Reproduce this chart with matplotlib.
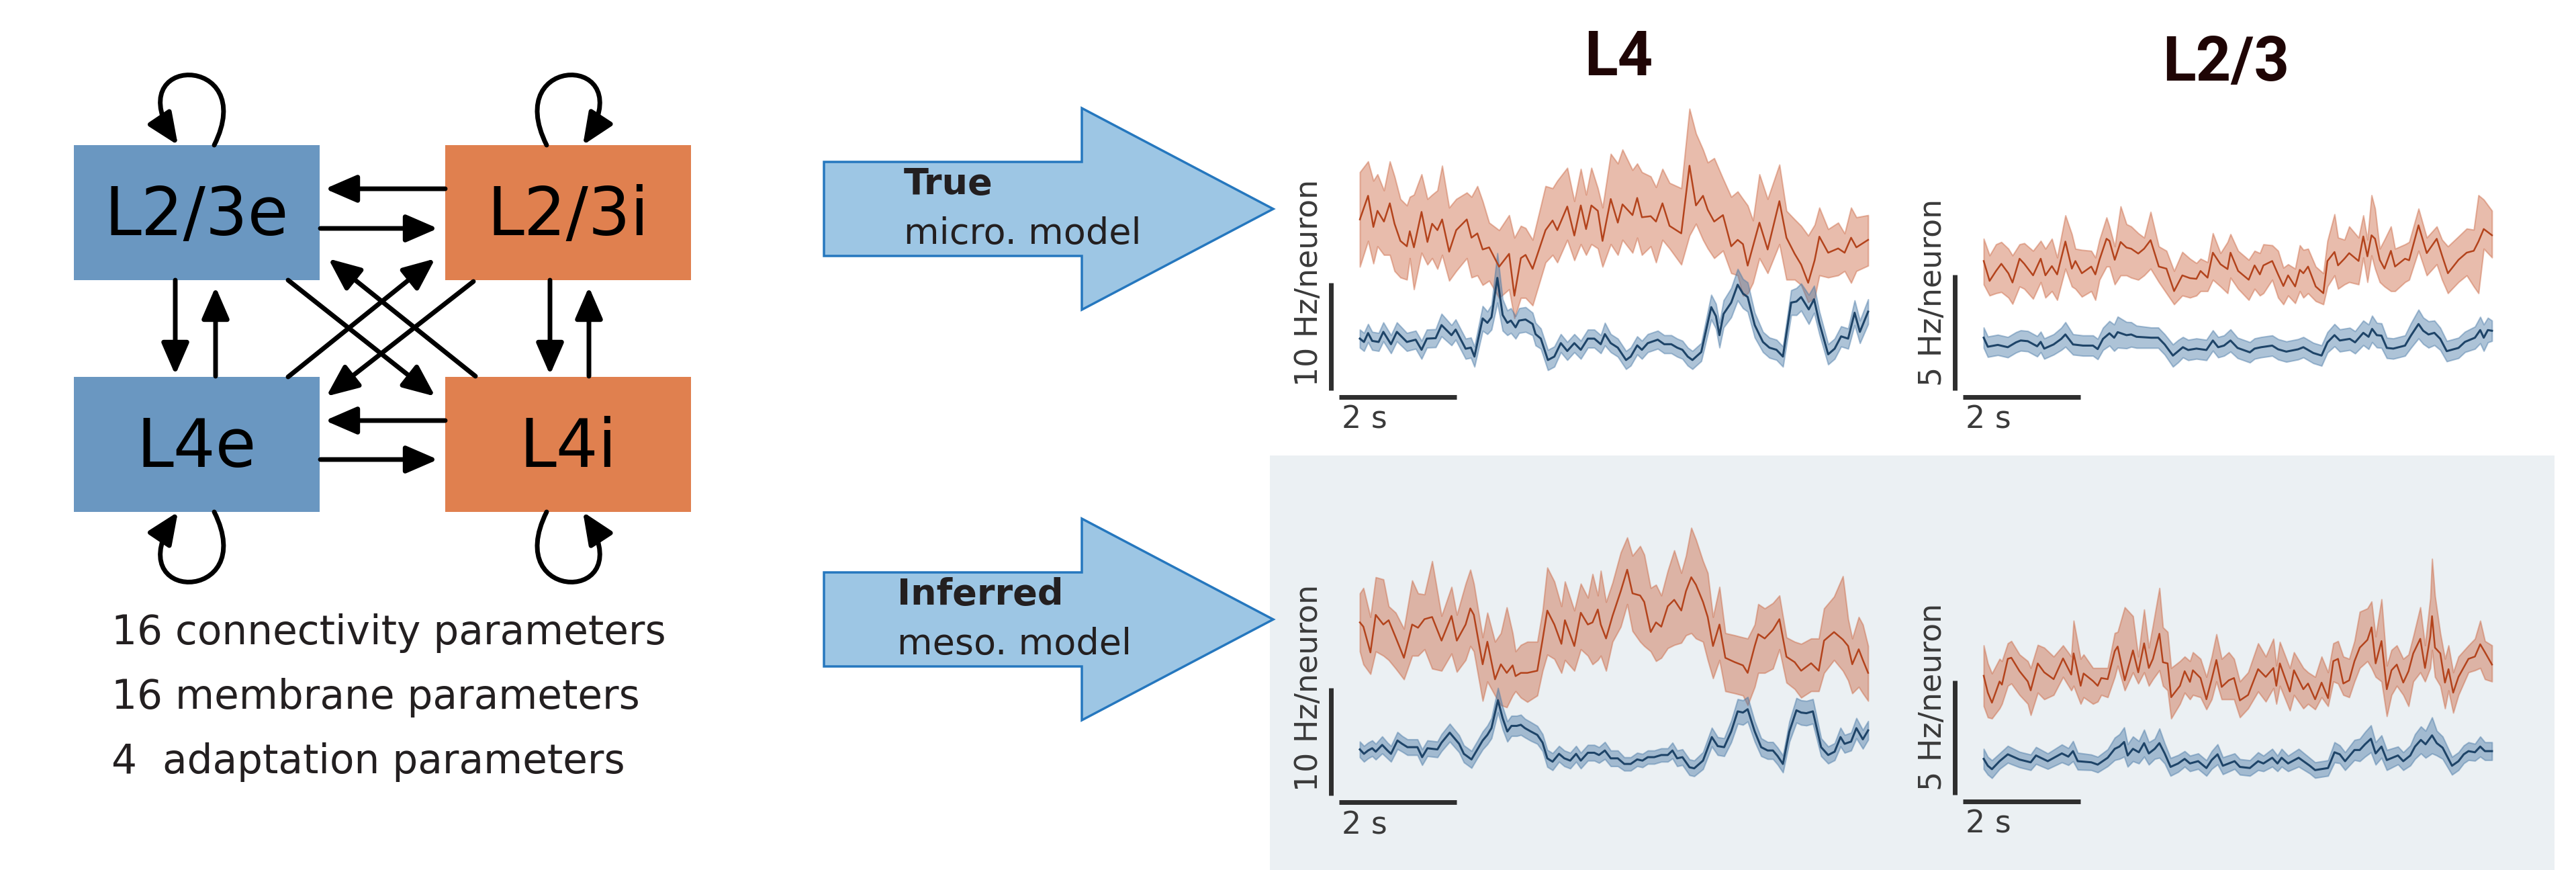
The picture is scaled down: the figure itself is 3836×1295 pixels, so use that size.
import numpy as np
import matplotlib.pyplot as plt
from matplotlib.patches import Rectangle, Polygon, FancyArrowPatch
from matplotlib.path import Path

# ---------------- data (rates in Hz/neuron, time in s) ----------------
# L4, true micro model: inhibitory (orange) mean + band, excitatory (blue) mean + half width
l4_true_t_inh = [0.00, 0.14, 0.23, 0.30, 0.41, 0.51, 0.59, 0.69, 0.80, 0.85,
                 0.92, 1.05, 1.15, 1.23, 1.32, 1.40, 1.52, 1.64, 1.82, 1.90,
                 2.00, 2.09, 2.20, 2.37, 2.54, 2.63, 2.74, 2.82, 2.94, 3.16,
                 3.28, 3.36, 3.53, 3.65, 3.76, 3.85, 3.94, 4.05, 4.13, 4.27,
                 4.39, 4.47, 4.64, 4.72, 4.80, 4.95, 5.04, 5.15, 5.27, 5.47,
                 5.61, 5.72, 5.84, 5.92, 6.03, 6.18, 6.32, 6.43, 6.52, 6.60,
                 6.69, 6.80, 6.94, 7.14, 7.26, 7.40, 7.51, 7.63, 7.74, 7.82,
                 7.97, 8.14, 8.25, 8.36, 8.45, 8.65]
l4_true_inh = [15.9, 18.1, 15.2, 16.7, 15.7, 17.4, 15.5, 13.9, 13.4, 14.8,
               13.3, 16.6, 13.8, 15.5, 14.9, 15.9, 12.9, 14.9, 15.9, 14.2,
               14.6, 13.1, 13.3, 11.5, 12.7, 8.8, 12.3, 12.6, 11.3, 14.9,
               15.8, 14.9, 17.1, 14.4, 17.2, 15.0, 17.2, 16.7, 13.9, 17.8,
               15.6, 17.3, 16.3, 17.9, 16.1, 16.2, 15.7, 17.4, 15.3, 14.6,
               20.9, 17.2, 18.1, 16.8, 15.7, 16.3, 13.4, 14.0, 13.6, 11.6,
               13.4, 15.6, 13.1, 17.6, 14.2, 12.7, 11.7, 10.0, 12.1, 14.3,
               12.8, 13.2, 12.8, 14.2, 13.3, 14.0]
l4_true_inh_hi = [20.3, 21.3, 19.5, 20.1, 18.6, 21.3, 19.9, 17.8, 17.2, 18.0,
                  18.2, 20.1, 17.8, 18.2, 18.6, 20.9, 17.0, 17.8, 18.4, 18.0,
                  19.0, 17.6, 15.6, 14.9, 16.3, 14.2, 15.3, 15.1, 14.0, 19.0,
                  18.8, 19.5, 20.7, 17.6, 20.6, 18.2, 20.7, 18.8, 17.0, 22.0,
                  21.1, 22.4, 20.5, 21.1, 20.3, 19.9, 18.9, 20.6, 19.3, 18.8,
                  26.2, 23.9, 22.4, 21.2, 21.6, 19.7, 18.0, 18.5, 17.8, 17.2,
                  15.8, 20.1, 17.8, 21.0, 16.7, 15.9, 15.3, 14.4, 15.4, 17.0,
                  15.0, 15.6, 14.6, 17.0, 16.1, 16.3]
l4_true_inh_lo = [11.5, 13.9, 11.8, 13.4, 12.6, 12.6, 11.1, 10.5, 10.3, 12.3,
                  9.4, 12.8, 11.7, 12.3, 11.3, 12.6, 10.2, 11.1, 12.3, 10.5,
                  10.7, 9.8, 10.2, 8.6, 9.4, 6.7, 8.6, 8.6, 7.9, 11.9,
                  12.6, 11.9, 14.0, 12.1, 13.6, 12.6, 13.6, 13.2, 11.5, 13.6,
                  12.6, 14.0, 12.8, 14.2, 12.6, 13.4, 11.9, 14.0, 13.2, 11.7,
                  14.4, 15.5, 14.0, 13.2, 12.3, 13.0, 10.9, 10.7, 8.8, 9.0,
                  10.0, 12.3, 10.9, 13.6, 10.3, 10.3, 9.8, 8.2, 8.6, 10.7,
                  10.5, 10.7, 11.1, 10.0, 11.1, 11.6]
l4_true_t_exc = [0.00, 0.07, 0.14, 0.21, 0.32, 0.40, 0.53, 0.63, 0.80, 0.95,
                 1.05, 1.14, 1.29, 1.39, 1.56, 1.63, 1.80, 1.89, 1.95, 2.09,
                 2.17, 2.24, 2.34, 2.43, 2.51, 2.57, 2.65, 2.71, 2.82, 2.94,
                 2.99, 3.08, 3.20, 3.31, 3.42, 3.53, 3.65, 3.76, 3.88, 3.99,
                 4.10, 4.17, 4.27, 4.39, 4.53, 4.61, 4.72, 4.80, 4.90, 5.07,
                 5.18, 5.30, 5.40, 5.49, 5.58, 5.66, 5.81, 5.98, 6.06, 6.12,
                 6.19, 6.32, 6.43, 6.52, 6.60, 6.72, 6.86, 6.97, 7.09, 7.20,
                 7.34, 7.43, 7.51, 7.64, 7.73, 7.82, 7.97, 8.08, 8.19, 8.31,
                 8.42, 8.51, 8.65]
l4_true_exc = [4.81, 4.50, 5.33, 4.60, 4.50, 5.44, 4.29, 5.44, 4.50, 4.71,
               3.77, 4.81, 4.85, 6.07, 5.13, 5.65, 3.87, 3.97, 3.14, 6.69,
               6.28, 6.80, 10.46, 7.01, 6.28, 6.49, 5.86, 6.49, 6.59, 6.17,
               5.23, 4.81, 2.82, 3.14, 4.39, 3.66, 4.39, 3.77, 4.81, 4.81,
               4.29, 5.23, 4.39, 3.97, 2.82, 3.14, 4.18, 3.77, 4.39, 4.71,
               4.29, 4.29, 3.97, 3.77, 3.14, 2.82, 3.56, 7.74, 6.90, 5.13,
               7.11, 8.16, 9.83, 9.00, 8.68, 6.07, 4.50, 3.97, 3.77, 3.14,
               8.16, 8.26, 8.68, 7.53, 8.47, 6.28, 3.35, 3.87, 5.02, 4.81,
               7.22, 5.44, 7.32]
l4_true_exc_w = [0.84, 0.84, 0.84, 0.84, 0.84, 0.88, 0.84, 0.88, 0.84, 0.84,
                 0.84, 0.84, 0.84, 1.05, 0.94, 0.94, 0.94, 0.94, 0.94, 1.15,
                 1.05, 1.15, 2.30, 1.46, 1.15, 1.15, 1.05, 1.15, 1.15, 1.05,
                 1.05, 0.94, 0.94, 0.94, 0.84, 0.84, 0.84, 0.84, 0.84, 0.84,
                 0.84, 1.05, 0.84, 0.84, 0.84, 0.84, 0.84, 0.84, 0.84, 0.84,
                 0.84, 0.84, 0.84, 0.84, 0.84, 0.84, 0.84, 1.15, 1.15, 1.15,
                 1.26, 1.36, 1.46, 1.36, 1.36, 1.15, 0.94, 0.94, 0.94, 0.94,
                 1.15, 1.26, 1.26, 1.36, 1.26, 1.05, 0.94, 0.94, 0.94, 0.94,
                 1.15, 1.05, 1.15]

# L2/3, true micro model
l23_true_t_inh = [0.00, 0.10, 0.21, 0.30, 0.42, 0.49, 0.61, 0.69, 0.84, 0.97,
                  1.05, 1.16, 1.25, 1.39, 1.50, 1.56, 1.67, 1.83, 1.90, 1.97,
                  2.09, 2.14, 2.23, 2.33, 2.43, 2.51, 2.63, 2.73, 2.84, 2.98,
                  3.11, 3.24, 3.38, 3.51, 3.62, 3.69, 3.81, 3.90, 4.03, 4.15,
                  4.20, 4.33, 4.51, 4.61, 4.70, 4.76, 4.91, 5.01, 5.10, 5.18,
                  5.30, 5.38, 5.44, 5.52, 5.65, 5.78, 5.85, 5.97, 6.03, 6.14,
                  6.22, 6.38, 6.46, 6.53, 6.60, 6.66, 6.74, 6.82, 6.93, 7.00,
                  7.17, 7.24, 7.40, 7.54, 7.71, 7.80, 7.90, 8.08, 8.22, 8.34,
                  8.42, 8.51, 8.65]
l23_true_inh = [5.58, 4.72, 5.15, 5.46, 5.05, 4.65, 5.68, 5.46, 4.96, 5.68,
                4.96, 5.36, 5.00, 6.42, 5.25, 5.58, 5.05, 5.34, 5.00, 5.63,
                6.54, 6.45, 5.63, 6.40, 6.16, 6.11, 5.90, 6.11, 6.48, 5.34,
                5.25, 4.28, 4.96, 4.84, 4.81, 5.15, 4.86, 5.94, 5.44, 5.23,
                5.94, 5.15, 4.77, 5.39, 5.00, 5.39, 5.58, 5.00, 4.50, 4.96,
                4.48, 5.20, 5.05, 5.34, 4.48, 4.19, 5.58, 5.97, 5.39, 5.68,
                5.92, 5.58, 6.64, 5.78, 6.69, 6.54, 5.63, 5.25, 6.02, 5.34,
                5.68, 5.61, 7.12, 5.92, 6.54, 5.82, 5.05, 5.63, 5.94, 6.02,
                6.42, 6.96, 6.69]
l23_true_inh_hi = [6.54, 5.82, 6.30, 6.40, 6.11, 5.82, 6.30, 6.35, 6.02, 6.45,
                   6.11, 6.54, 5.73, 7.55, 6.74, 6.11, 6.06, 6.02, 5.73, 6.50,
                   7.46, 7.07, 6.21, 7.94, 7.17, 7.07, 6.78, 6.59, 7.70, 6.21,
                   6.02, 5.15, 5.97, 5.68, 5.49, 5.68, 5.53, 6.78, 5.92, 6.40,
                   6.74, 6.02, 5.63, 6.02, 5.92, 6.30, 6.26, 6.02, 5.29, 5.44,
                   5.25, 6.26, 6.06, 6.11, 5.34, 5.05, 6.45, 7.60, 6.59, 6.50,
                   7.07, 6.59, 7.55, 6.50, 8.42, 7.84, 6.11, 6.50, 7.07, 6.11,
                   6.30, 6.40, 7.84, 6.59, 7.07, 6.50, 6.21, 6.64, 6.98, 6.93,
                   8.42, 8.23, 7.75]
l23_true_inh_lo = [4.57, 4.09, 4.19, 4.24, 4.00, 3.73, 4.48, 4.38, 3.95, 4.67,
                   4.00, 4.28, 3.90, 5.25, 4.48, 4.38, 4.04, 4.28, 3.90, 4.77,
                   5.34, 5.34, 4.57, 4.96, 4.96, 4.86, 4.77, 4.96, 5.25, 4.67,
                   4.19, 3.71, 4.09, 4.00, 4.09, 4.28, 4.28, 4.77, 4.48, 4.19,
                   4.86, 4.38, 3.90, 4.38, 4.09, 4.19, 4.77, 4.00, 3.71, 4.09,
                   3.76, 4.28, 4.00, 4.19, 3.85, 3.71, 4.48, 4.96, 4.38, 4.57,
                   4.67, 4.57, 5.73, 4.67, 5.82, 5.25, 4.67, 4.48, 4.28, 4.28,
                   4.67, 4.77, 6.02, 4.96, 5.44, 4.77, 4.19, 4.67, 4.96, 4.48,
                   4.19, 6.11, 5.73]
l23_true_t_exc = [0.00, 0.07, 0.24, 0.41, 0.55, 0.63, 0.75, 0.91, 0.97, 1.03,
                  1.19, 1.32, 1.39, 1.52, 1.69, 1.86, 1.94, 2.03, 2.14, 2.22,
                  2.28, 2.43, 2.51, 2.60, 2.85, 2.97, 3.08, 3.22, 3.31, 3.39,
                  3.48, 3.62, 3.79, 3.90, 3.99, 4.09, 4.20, 4.32, 4.53, 4.61,
                  4.72, 4.91, 5.01, 5.15, 5.35, 5.44, 5.61, 5.75, 5.85, 5.97,
                  6.06, 6.23, 6.32, 6.46, 6.55, 6.61, 6.69, 6.77, 6.86, 6.97,
                  7.17, 7.27, 7.40, 7.48, 7.57, 7.67, 7.77, 7.88, 8.08, 8.19,
                  8.36, 8.45, 8.51, 8.58, 8.65]
l23_true_exc = [2.27, 1.88, 1.96, 1.86, 2.07, 2.15, 2.12, 1.90, 2.09, 1.80,
                1.98, 2.22, 2.41, 1.98, 1.93, 1.93, 1.78, 2.22, 2.46, 2.27,
                2.51, 2.38, 2.41, 2.31, 2.27, 2.27, 1.98, 1.50, 1.69, 1.86,
                1.74, 1.80, 1.74, 2.15, 1.86, 1.93, 2.15, 1.83, 1.64, 1.80,
                1.86, 1.93, 1.77, 1.67, 1.77, 1.86, 1.61, 1.50, 2.07, 2.38,
                2.15, 2.22, 2.07, 2.48, 2.31, 2.65, 2.38, 2.36, 1.83, 1.80,
                1.93, 2.36, 2.86, 2.57, 2.41, 2.48, 2.22, 1.69, 1.83, 2.09,
                2.27, 2.60, 2.27, 2.60, 2.57]
l23_true_exc_w = [0.44, 0.44, 0.44, 0.44, 0.44, 0.44, 0.44, 0.44, 0.44, 0.44,
                  0.44, 0.48, 0.53, 0.44, 0.44, 0.44, 0.44, 0.48, 0.53, 0.57,
                  0.67, 0.57, 0.53, 0.48, 0.44, 0.44, 0.44, 0.48, 0.48, 0.44,
                  0.44, 0.44, 0.44, 0.44, 0.44, 0.44, 0.48, 0.44, 0.44, 0.44,
                  0.44, 0.44, 0.44, 0.44, 0.44, 0.44, 0.44, 0.44, 0.44, 0.48,
                  0.48, 0.48, 0.48, 0.53, 0.53, 0.57, 0.53, 0.53, 0.44, 0.44,
                  0.44, 0.53, 0.62, 0.57, 0.57, 0.53, 0.48, 0.44, 0.44, 0.44,
                  0.48, 0.57, 0.57, 0.53, 0.44]

# L4, inferred meso model
l4_inf_t_inh = [0.00, 0.06, 0.18, 0.27, 0.40, 0.49, 0.61, 0.75, 0.89, 0.99,
                1.10, 1.23, 1.39, 1.56, 1.65, 1.80, 1.88, 1.94, 2.09, 2.17,
                2.30, 2.40, 2.50, 2.60, 2.65, 2.74, 2.85, 3.02, 3.11, 3.19,
                3.31, 3.43, 3.49, 3.65, 3.76, 3.88, 3.96, 4.05, 4.10, 4.19,
                4.30, 4.44, 4.55, 4.64, 4.77, 4.84, 4.95, 5.04, 5.13, 5.24,
                5.35, 5.47, 5.55, 5.64, 5.72, 5.84, 5.92, 6.01, 6.12, 6.22,
                6.38, 6.52, 6.60, 6.72, 6.78, 6.89, 7.03, 7.14, 7.26, 7.40,
                7.51, 7.68, 7.81, 7.90, 8.07, 8.22, 8.31, 8.38, 8.49, 8.56,
                8.65]
l4_inf_inh = [16.1, 15.7, 13.3, 16.8, 15.9, 16.3, 14.7, 12.8, 15.9, 15.6,
              16.4, 16.6, 14.4, 16.7, 14.4, 15.9, 17.4, 16.8, 12.2, 14.3,
              10.8, 12.2, 11.4, 12.1, 11.1, 11.4, 11.4, 11.6, 14.5, 17.2,
              15.9, 14.1, 16.3, 13.9, 17.0, 15.9, 16.1, 17.3, 15.9, 14.6,
              16.7, 19.0, 21.0, 18.8, 18.6, 18.0, 15.2, 16.1, 15.7, 17.6,
              18.2, 17.2, 19.0, 20.3, 19.6, 18.0, 16.6, 13.9, 15.9, 12.8,
              12.4, 12.1, 11.4, 13.9, 15.0, 14.6, 15.4, 16.4, 12.9, 12.4,
              11.6, 12.3, 11.6, 14.4, 15.2, 14.5, 13.9, 12.2, 13.6, 12.6,
              11.4]
l4_inf_inh_hi = [18.8, 19.3, 16.6, 20.3, 20.1, 17.6, 17.0, 15.5, 20.0, 18.8,
                 18.7, 21.8, 16.7, 19.4, 16.8, 19.7, 21.0, 19.7, 14.7, 17.0,
                 14.3, 15.1, 17.5, 15.1, 13.4, 14.0, 14.3, 14.3, 17.2, 21.2,
                 19.9, 17.6, 19.9, 17.2, 19.7, 18.4, 20.6, 18.6, 20.9, 18.0,
                 19.8, 22.6, 24.0, 22.3, 23.2, 22.4, 19.3, 19.6, 18.6, 20.9,
                 22.8, 20.7, 22.3, 24.9, 23.8, 21.8, 20.7, 16.6, 19.4, 15.1,
                 14.9, 14.7, 14.6, 15.9, 17.8, 17.4, 17.9, 18.6, 14.7, 14.3,
                 14.1, 14.6, 14.6, 17.4, 18.5, 20.4, 16.4, 14.6, 16.6, 15.9,
                 13.9]
l4_inf_inh_lo = [13.4, 12.2, 11.3, 13.4, 13.0, 12.6, 11.8, 10.8, 13.0, 13.0,
                 13.6, 11.8, 11.6, 13.2, 11.5, 12.6, 13.9, 13.4, 8.8, 10.6,
                 9.3, 8.4, 8.2, 9.3, 9.7, 9.1, 8.7, 9.3, 11.6, 13.1,
                 12.7, 11.4, 12.6, 11.6, 13.6, 13.0, 12.2, 12.6, 13.0, 11.6,
                 14.3, 15.7, 17.8, 15.3, 14.3, 13.9, 13.4, 12.5, 12.8, 13.7,
                 14.0, 14.2, 14.9, 15.1, 14.6, 14.3, 12.6, 10.9, 12.6, 9.7,
                 9.5, 9.3, 8.4, 10.1, 11.4, 11.4, 11.8, 13.6, 10.5, 9.9,
                 9.1, 9.7, 9.7, 11.4, 12.6, 11.6, 10.7, 9.5, 10.1, 9.5,
                 8.8]
l4_inf_t_exc = [0.00, 0.07, 0.14, 0.21, 0.27, 0.38, 0.47, 0.53, 0.64, 0.72,
                0.81, 0.98, 1.06, 1.15, 1.32, 1.39, 1.53, 1.69, 1.77, 1.90,
                2.00, 2.09, 2.17, 2.24, 2.35, 2.43, 2.51, 2.58, 2.67, 2.74,
                2.81, 2.91, 3.02, 3.11, 3.19, 3.28, 3.39, 3.48, 3.58, 3.68,
                3.76, 3.88, 3.99, 4.07, 4.17, 4.27, 4.39, 4.50, 4.61, 4.72,
                4.81, 4.90, 5.01, 5.13, 5.24, 5.32, 5.40, 5.49, 5.61, 5.69,
                5.84, 5.99, 6.09, 6.20, 6.32, 6.43, 6.52, 6.60, 6.72, 6.83,
                6.94, 7.03, 7.11, 7.20, 7.31, 7.43, 7.51, 7.60, 7.71, 7.85,
                7.97, 8.08, 8.18, 8.25, 8.36, 8.45, 8.56, 8.65]
l4_inf_exc = [4.28, 3.87, 4.18, 4.39, 4.07, 4.70, 4.18, 3.87, 5.11, 4.80,
              4.49, 4.49, 3.56, 4.39, 4.28, 4.91, 5.84, 4.80, 3.87, 3.35,
              4.28, 5.11, 5.63, 6.26, 8.86, 7.19, 5.95, 6.47, 6.47, 6.57,
              6.26, 5.95, 5.63, 4.91, 3.45, 3.14, 3.87, 3.45, 3.24, 3.87,
              3.24, 3.97, 3.97, 3.76, 4.18, 3.45, 3.45, 2.93, 2.93, 3.35,
              3.24, 3.56, 3.56, 3.76, 3.76, 4.18, 3.45, 3.56, 2.62, 2.52,
              3.24, 5.43, 4.59, 4.49, 5.95, 7.82, 7.71, 8.02, 5.95, 4.49,
              4.18, 4.18, 3.66, 2.93, 5.95, 7.92, 7.71, 7.65, 7.82, 4.49,
              3.76, 4.07, 5.43, 4.80, 5.01, 6.26, 5.22, 6.05]
l4_inf_exc_w = [0.73, 0.73, 0.73, 0.73, 0.73, 0.79, 0.73, 0.73, 0.79, 0.73,
                0.73, 0.73, 0.73, 0.73, 0.73, 0.79, 0.83, 0.79, 0.79, 0.79,
                0.79, 0.83, 0.87, 0.94, 1.14, 1.04, 0.94, 0.94, 0.94, 0.94,
                0.87, 0.87, 0.83, 0.79, 0.79, 0.79, 0.73, 0.73, 0.73, 0.73,
                0.73, 0.73, 0.73, 0.73, 0.79, 0.73, 0.73, 0.62, 0.62, 0.62,
                0.62, 0.62, 0.62, 0.62, 0.62, 0.73, 0.73, 0.73, 0.73, 0.73,
                0.79, 0.87, 0.83, 0.83, 1.00, 1.14, 1.14, 1.14, 0.94, 0.83,
                0.79, 0.79, 0.79, 0.79, 0.94, 1.14, 1.14, 1.14, 1.14, 0.83,
                0.79, 0.79, 0.87, 0.83, 0.83, 0.94, 0.87, 0.87]

# L2/3, inferred meso model
l23_inf_t_inh = [0.00, 0.07, 0.14, 0.27, 0.31, 0.41, 0.47, 0.61, 0.75, 0.80,
                 0.92, 1.03, 1.19, 1.35, 1.49, 1.53, 1.65, 1.70, 1.86, 1.94,
                 2.00, 2.11, 2.23, 2.28, 2.40, 2.54, 2.63, 2.73, 2.81, 2.88,
                 2.99, 3.05, 3.13, 3.19, 3.34, 3.42, 3.51, 3.56, 3.69, 3.79,
                 3.88, 3.96, 4.05, 4.17, 4.26, 4.36, 4.50, 4.67, 4.80, 4.93,
                 4.98, 5.04, 5.21, 5.28, 5.44, 5.52, 5.64, 5.75, 5.86, 5.95,
                 6.03, 6.12, 6.22, 6.31, 6.40, 6.53, 6.60, 6.67, 6.77, 6.86,
                 6.94, 7.03, 7.14, 7.23, 7.31, 7.43, 7.51, 7.60, 7.63, 7.68,
                 7.77, 7.85, 7.91, 7.99, 8.08, 8.25, 8.36, 8.45, 8.53, 8.65]
l23_inf_inh = [5.21, 4.47, 4.03, 4.96, 4.82, 5.95, 6.00, 5.41, 4.96, 4.57,
               5.75, 5.36, 5.06, 5.97, 5.26, 6.19, 4.77, 5.31, 4.98, 4.77,
               5.11, 5.06, 6.29, 6.49, 5.01, 6.32, 5.36, 6.63, 5.55, 5.95,
               7.05, 5.80, 5.75, 4.27, 4.77, 5.41, 4.94, 5.45, 5.11, 4.18,
               5.06, 5.90, 4.72, 5.01, 5.11, 4.13, 4.37, 5.50, 5.16, 5.55,
               4.77, 5.75, 4.52, 5.45, 4.62, 4.87, 4.18, 4.91, 4.23, 5.85,
               5.95, 4.87, 5.01, 5.85, 6.44, 6.78, 7.33, 5.75, 6.73, 4.62,
               5.45, 5.70, 4.91, 5.41, 6.19, 6.83, 5.55, 6.93, 7.82, 6.44,
               6.19, 4.91, 5.50, 4.47, 5.16, 5.95, 6.05, 6.59, 6.24, 5.70]
l23_inf_inh_hi = [6.54, 5.75, 5.31, 5.95, 5.85, 6.63, 6.73, 6.14, 5.85, 5.55,
                  6.56, 6.44, 6.05, 6.54, 6.05, 7.62, 5.95, 6.14, 5.55, 5.55,
                  5.55, 5.55, 7.08, 7.13, 8.21, 7.82, 6.05, 8.11, 6.44, 7.42,
                  9.05, 7.33, 7.13, 5.55, 5.85, 6.05, 5.85, 6.24, 5.95, 5.16,
                  6.05, 7.03, 5.95, 6.24, 5.95, 4.96, 5.36, 6.63, 6.05, 6.83,
                  5.65, 6.69, 5.55, 6.24, 5.55, 5.36, 5.16, 6.05, 5.36, 6.63,
                  6.73, 6.05, 5.95, 6.73, 8.01, 8.16, 8.46, 6.93, 8.56, 5.65,
                  6.34, 6.54, 5.95, 6.14, 6.93, 8.21, 6.54, 8.60, 10.33, 8.70,
                  7.08, 5.95, 6.54, 5.36, 6.05, 6.54, 6.83, 7.62, 6.73, 6.54]
l23_inf_inh_lo = [3.88, 3.39, 3.34, 3.78, 3.98, 4.77, 4.87, 4.37, 3.98, 3.49,
                  4.47, 4.18, 4.37, 5.16, 4.57, 4.77, 3.98, 4.27, 3.98, 4.08,
                  4.37, 4.27, 5.16, 5.65, 4.57, 5.36, 4.87, 5.36, 4.77, 5.06,
                  5.45, 4.77, 4.57, 3.34, 3.98, 4.47, 4.18, 4.37, 4.27, 3.74,
                  4.18, 4.96, 4.18, 4.18, 4.18, 3.39, 3.78, 4.52, 4.08, 4.67,
                  3.98, 4.77, 3.69, 4.37, 3.78, 3.98, 3.74, 4.27, 3.88, 4.96,
                  4.87, 4.37, 4.27, 4.96, 5.55, 5.85, 5.55, 5.16, 4.96, 3.44,
                  4.37, 4.77, 4.37, 3.88, 4.96, 5.36, 4.96, 5.55, 6.34, 5.16,
                  4.77, 3.78, 4.57, 3.59, 4.37, 5.36, 5.45, 5.55, 5.06, 4.96]
l23_inf_t_exc = [0.00, 0.07, 0.14, 0.27, 0.41, 0.61, 0.80, 0.89, 1.09, 1.33,
                 1.44, 1.52, 1.60, 1.83, 1.94, 2.11, 2.23, 2.31, 2.39, 2.45,
                 2.54, 2.64, 2.73, 2.81, 2.91, 2.99, 3.08, 3.18, 3.31, 3.42,
                 3.51, 3.65, 3.79, 3.88, 3.98, 4.07, 4.27, 4.36, 4.53, 4.67,
                 4.76, 4.91, 5.00, 5.07, 5.18, 5.36, 5.55, 5.64, 5.86, 5.97,
                 6.06, 6.15, 6.31, 6.40, 6.49, 6.59, 6.67, 6.77, 6.86, 7.05,
                 7.14, 7.26, 7.34, 7.44, 7.52, 7.63, 7.71, 7.81, 7.97, 8.08,
                 8.17, 8.25, 8.36, 8.45, 8.53, 8.65]
l23_inf_exc = [1.57, 1.27, 1.12, 1.47, 1.77, 1.54, 1.42, 1.72, 1.47, 1.81,
               1.67, 1.91, 1.47, 1.42, 1.32, 1.62, 2.01, 2.11, 2.31, 1.72,
               2.01, 1.86, 2.26, 1.81, 2.01, 2.26, 1.81, 1.22, 1.37, 1.57,
               1.37, 1.47, 1.17, 1.52, 1.77, 1.27, 1.47, 1.22, 1.17, 1.47,
               1.37, 1.62, 1.37, 1.62, 1.37, 1.62, 1.27, 1.08, 1.17, 1.86,
               1.77, 1.47, 1.96, 1.96, 2.21, 2.45, 1.81, 2.11, 1.52, 1.72,
               1.47, 1.72, 2.11, 2.40, 2.21, 2.60, 2.26, 2.06, 1.27, 1.47,
               1.77, 1.91, 1.86, 2.11, 1.91, 1.91]
l23_inf_exc_w = [0.44, 0.39, 0.39, 0.34, 0.37, 0.34, 0.34, 0.37, 0.34, 0.39,
                 0.37, 0.44, 0.37, 0.34, 0.34, 0.37, 0.49, 0.54, 0.64, 0.49,
                 0.54, 0.49, 0.59, 0.49, 0.44, 0.64, 0.44, 0.39, 0.37, 0.34,
                 0.34, 0.34, 0.34, 0.39, 0.44, 0.37, 0.34, 0.34, 0.34, 0.39,
                 0.34, 0.39, 0.34, 0.39, 0.34, 0.39, 0.34, 0.34, 0.34, 0.44,
                 0.39, 0.39, 0.44, 0.49, 0.54, 0.59, 0.49, 0.49, 0.44, 0.39,
                 0.39, 0.44, 0.54, 0.59, 0.59, 0.79, 0.54, 0.49, 0.39, 0.39,
                 0.39, 0.39, 0.37, 0.44, 0.39, 0.39]

params_text = ["16 connectivity parameters", "16 membrane parameters",
               "4  adaptation parameters"]
pop_names = ["L2/3e", "L2/3i", "L4e", "L4i"]

# ---------------- styles ----------------
EXC_BOX = '#6A97C1'
INH_BOX = '#E0804F'
INH_LINE, INH_FILL = '#B3431C', '#C9603A'
EXC_LINE, EXC_FILL = '#1E4468', '#4A7AA7'
ARROW_FACE, ARROW_EDGE = '#9DC6E4', '#2577BE'
BAR_C = '#2E2E2E'
TXT_C = '#231F20'

W, H = 3837, 1295
fig = plt.figure(figsize=(W / 100, H / 100), dpi=100)

# full figure overlay in pixel units (y down) for the schematic part
ax0 = fig.add_axes([0, 0, 1, 1])
ax0.set_xlim(0, W)
ax0.set_ylim(H, 0)
ax0.axis('off')

# shaded background behind the inferred row
ax0.add_patch(Rectangle((1891, 678), 1913, 630, color='#EBF0F3', lw=0))

# population boxes
box_pos = [(110, 216), (663, 216), (110, 561), (663, 561)]
box_col = [EXC_BOX, INH_BOX, EXC_BOX, INH_BOX]
for name, (bx, by), c in zip(pop_names, box_pos, box_col):
    ax0.add_patch(Rectangle((bx, by), 366, 201, color=c, lw=0))
    ax0.text(bx + 183, by + 134, name, fontsize=71, ha='center', va='baseline',
             color='black')

astyle = '-|>,head_length=0.6,head_width=0.26'
links = [(663, 281, 484, 281), (477, 340, 652, 340),
         (663, 626, 484, 626), (477, 684, 652, 684),
         (261, 417, 261, 558), (321, 560, 321, 427),
         (819, 417, 819, 558), (877, 560, 877, 427),
         (429, 417, 648, 590), (708, 560, 489, 385),
         (429, 561, 648, 385), (705, 419, 486, 590)]
for x1, y1, x2, y2 in links:
    ax0.add_patch(FancyArrowPatch((x1, y1), (x2, y2), arrowstyle=astyle,
                                  mutation_scale=48, lw=5, color='black',
                                  shrinkA=0, shrinkB=0))

# self loops (tail, control, control, head)
loops = [[(319, 216), (388, 78), (172, 78), (265, 216)],
         [(814, 216), (745, 78), (958, 78), (868, 216)],
         [(319, 762), (388, 900), (172, 900), (265, 762)],
         [(814, 762), (745, 900), (958, 900), (868, 762)]]
codes = [Path.MOVETO, Path.CURVE4, Path.CURVE4, Path.CURVE4]
for verts in loops:
    ax0.add_patch(FancyArrowPatch(path=Path(verts, codes), arrowstyle=astyle,
                                  mutation_scale=48, lw=5, color='black'))

for i, s in enumerate(params_text):
    ax0.text(166, 959 + 96 * i, s, fontsize=43, ha='left', va='baseline',
             color=TXT_C)

# big block arrows
for cy, bold, sub, tx in [(311, 'True', 'micro. model', 1346),
                          (922, 'Inferred', 'meso. model', 1336)]:
    pts = [(1227, cy - 70), (1611, cy - 70), (1611, cy - 150), (1896, cy),
           (1611, cy + 150), (1611, cy + 70), (1227, cy + 70)]
    ax0.add_patch(Polygon(pts, closed=True, facecolor=ARROW_FACE,
                          edgecolor=ARROW_EDGE, lw=2.5))
    ax0.text(tx, cy - 22, bold, fontsize=39, fontweight='bold', color=TXT_C,
             va='baseline')
    ax0.text(tx, cy + 52, sub, fontsize=39, color=TXT_C, va='baseline')

# column titles
title_font = ['Roboto', 'DejaVu Sans']
ax0.text(2410, 112, 'L4', fontsize=66, fontweight='bold', family=title_font,
         color='#1F0505', ha='center', va='baseline')
ax0.text(3315, 120, 'L2/3', fontsize=66, fontweight='bold', family=title_font,
         color='#1F0505', ha='center', va='baseline')

# ---------------- trace panels ----------------
PX_S = 87.5  # pixels per second


def panel(t0_px, zero_px, px_hz, xb, yb):
    x0, x1 = xb
    ya, ybt = yb
    ax = fig.add_axes([x0 / W, 1 - ybt / H, (x1 - x0) / W, (ybt - ya) / H])
    ax.set_xlim((x0 - t0_px) / PX_S, (x1 - t0_px) / PX_S)
    ax.set_ylim((zero_px - ybt) / px_hz, (zero_px - ya) / px_hz)
    ax.axis('off')
    ax.patch.set_alpha(0)
    return ax


def draw(ax, ti, mi, hi, lo, te, me, we):
    n = min(len(ti), len(mi), len(hi), len(lo))
    ti, mi, hi, lo = [np.asarray(a[:n]) for a in (ti, mi, hi, lo)]
    ax.fill_between(ti, lo, hi, color=INH_FILL, alpha=0.42, lw=1.5)
    ax.plot(ti, mi, color=INH_LINE, lw=1.8)
    n = min(len(te), len(me), len(we))
    te, me, we = [np.asarray(a[:n]) for a in (te, me, we)]
    ax.fill_between(te, me - we, me + we, color=EXC_FILL, alpha=0.45, lw=1.5)
    ax.plot(te, me, color=EXC_LINE, lw=2.2)


def bars(ax, t0_px, zero_px, px_hz, hz, label):
    vx = -43 / PX_S
    ax.plot([vx, vx], [0, hz], color=BAR_C, lw=5, solid_capstyle='butt',
            clip_on=False)
    hx = -31 / PX_S
    hy = -10 / px_hz
    ax.plot([hx, hx + 2], [hy, hy], color=BAR_C, lw=5, solid_capstyle='butt',
            clip_on=False)
    ax0.text(t0_px - 75, zero_px - 6, label, rotation=90, fontsize=33,
             ha='center', va='bottom', color='#3A3A3A')
    ax0.text(t0_px - 27, zero_px + 22, '2 s', fontsize=33, ha='left', va='top',
             color='#3A3A3A')


specs = [
    (2025, 581, 16.0, (1900, 2830), (110, 660), 10, '10 Hz/neuron',
     (l4_true_t_inh, l4_true_inh, l4_true_inh_hi, l4_true_inh_lo,
      l4_true_t_exc, l4_true_exc, l4_true_exc_w)),
    (2954, 581, 34.5, (2840, 3760), (110, 660), 5, '5 Hz/neuron',
     (l23_true_t_inh, l23_true_inh, l23_true_inh_hi, l23_true_inh_lo,
      l23_true_t_exc, l23_true_exc, l23_true_exc_w)),
    (2025, 1184, 16.0, (1900, 2830), (700, 1290), 10, '10 Hz/neuron',
     (l4_inf_t_inh, l4_inf_inh, l4_inf_inh_hi, l4_inf_inh_lo,
      l4_inf_t_exc, l4_inf_exc, l4_inf_exc_w)),
    (2954, 1183, 34.0, (2840, 3760), (700, 1290), 5, '5 Hz/neuron',
     (l23_inf_t_inh, l23_inf_inh, l23_inf_inh_hi, l23_inf_inh_lo,
      l23_inf_t_exc, l23_inf_exc, l23_inf_exc_w)),
]
for t0, z0, pph, xb, yb, hz, lab, data in specs:
    ax = panel(t0, z0, pph, xb, yb)
    draw(ax, *data)
    bars(ax, t0, z0, pph, hz, lab)

fig.savefig('out.png', dpi=100)
